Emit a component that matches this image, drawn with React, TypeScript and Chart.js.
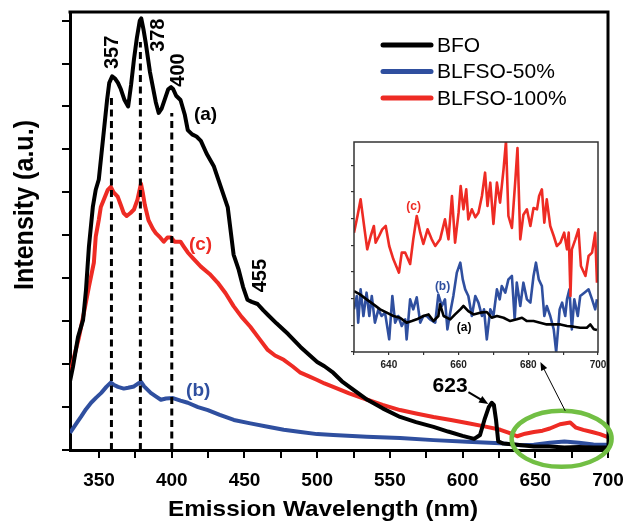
import React, { useEffect, useRef } from "react";
import { Chart, registerables } from "chart.js";
Chart.register(...registerables);

// ---------------- DATA ----------------
const seriesNames = ["BFO", "BLFSO-50%", "BLFSO-100%"];

const bfoWavelength = [330, 332, 335.5, 339, 341, 343, 345.7, 347.7, 349.8, 351.5, 353.5, 355.5, 357, 359, 361, 363, 365, 367.5, 370, 372, 374, 376, 378, 379, 380.5, 382, 385, 387, 389, 391, 393, 395, 397.5, 399.5, 401, 403, 406, 409, 411, 414, 417, 420, 424, 429, 434, 438.5, 442.5, 446, 449, 452, 455, 459, 463, 466, 472, 480, 488.5, 495, 500, 505, 511, 517, 525, 534.5, 545, 557, 568, 580, 590, 600, 608, 612, 615, 618, 620, 621.5, 623, 624.5, 628, 637.5, 649, 660, 670, 680, 690, 700];
const bfoIntensity = [1.6, 1.93, 2.63, 3.03, 3.73, 4.73, 5.66, 6.06, 6.3, 6.85, 7.5, 8.15, 8.55, 8.7, 8.65, 8.55, 8.4, 8.15, 8.0, 8.5, 9.1, 9.6, 10.0, 10.05, 9.8, 9.5, 8.8, 8.45, 8.1, 7.85, 7.95, 8.15, 8.4, 8.45, 8.4, 8.25, 8.15, 7.8, 7.45, 7.35, 7.3, 7.2, 6.9, 6.6, 6.1, 5.65, 4.55, 4.2, 3.8, 3.5, 3.45, 3.4, 3.25, 3.15, 2.95, 2.7, 2.4, 2.2, 2.05, 1.95, 1.8, 1.6, 1.4, 1.17, 0.97, 0.77, 0.65, 0.54, 0.43, 0.33, 0.26, 0.35, 0.7, 1.0, 1.1, 1.05, 0.7, 0.2, 0.15, 0.12, 0.08, 0.08, 0.06, 0.07, 0.06, 0.06];

const blfso100Wavelength = [330, 332.8, 336, 339.6, 343, 346.4, 347.7, 349.8, 351.2, 353.5, 356, 358, 360, 362.8, 365, 366.9, 369, 371.6, 374, 376.4, 378.8, 380, 381.5, 384, 387, 389, 392, 394.5, 397, 399.5, 402, 406, 408, 411, 415, 420, 426, 431.5, 437, 442.5, 448, 454, 460, 466, 471, 477, 483, 488.5, 494, 500, 505, 511, 522, 534.5, 545, 557, 568, 580, 592, 603, 615, 626, 632, 637.5, 643, 649, 655, 660, 667, 674, 678, 683, 689, 694.5, 700];
const blfso100Intensity = [1.75, 2.17, 2.6, 3.2, 3.8, 4.36, 4.97, 5.36, 5.66, 5.85, 6.06, 6.13, 6.0, 5.9, 5.7, 5.52, 5.45, 5.52, 5.6, 5.83, 6.2, 6.0, 5.7, 5.35, 5.15, 5.05, 4.95, 4.85, 4.95, 4.95, 4.85, 4.85, 4.75, 4.6, 4.45, 4.27, 4.1, 3.9, 3.65, 3.35, 3.1, 2.87, 2.6, 2.33, 2.2, 2.1, 1.95, 1.8, 1.72, 1.63, 1.55, 1.47, 1.32, 1.17, 1.05, 0.93, 0.85, 0.77, 0.7, 0.63, 0.55, 0.47, 0.4, 0.32, 0.38, 0.42, 0.45, 0.5, 0.6, 0.64, 0.52, 0.47, 0.42, 0.37, 0.3];

const blfso50Wavelength = [330, 332, 335, 337.5, 341, 344.5, 348, 351.5, 355, 358, 360, 363, 367, 370, 374, 377, 379, 381, 385.5, 389, 392.5, 396, 400.8, 406, 411, 418, 424.8, 433, 442.7, 454, 466, 477, 488.6, 500, 511, 534, 557, 580, 603, 626, 640, 649, 660, 670, 680, 690, 700];
const blfso50Intensity = [0.4, 0.5, 0.65, 0.77, 0.95, 1.1, 1.22, 1.33, 1.47, 1.57, 1.52, 1.47, 1.43, 1.45, 1.48, 1.55, 1.58, 1.48, 1.33, 1.25, 1.17, 1.2, 1.21, 1.15, 1.1, 1.0, 0.93, 0.82, 0.7, 0.62, 0.54, 0.47, 0.42, 0.37, 0.35, 0.31, 0.28, 0.23, 0.19, 0.16, 0.11, 0.12, 0.17, 0.2, 0.17, 0.13, 0.12];

// dashed peak markers
const peakWavelengths = [358.5, 378.4, 400];
const peakTops = [8.2, 9.5, 7.85];
const peakLabels = ["357", "378", "400"];

// axis ticks
const xTickValues = [350, 375, 400, 425, 450, 475, 500, 525, 550, 575, 600, 625, 650, 675, 700];
const xTickLabels = [350, 400, 450, 500, 550, 600, 650, 700];
const yTickValues = [0, 1, 2, 3, 4, 5, 6, 7, 8, 9, 10];
const xMin = 330;
const xMax = 700;
const yMax = 10.2;

// inset (630-700 nm zoom)
const insetRedWavelength = [630.0, 631.0, 631.9, 632.9, 633.8, 634.8, 635.7, 636.2, 637.2, 638.1, 639.1, 640.1, 641.3, 642.9, 643.7, 644.7, 646.1, 647.0, 648.0, 649.0, 649.9, 651.1, 652.3, 653.3, 654.7, 656.1, 657.1, 658.1, 659.0, 660.0, 660.6, 661.4, 662.2, 662.8, 663.8, 664.8, 665.7, 666.7, 667.6, 668.3, 669.1, 670.0, 671.0, 671.9, 672.9, 673.6, 674.3, 675.3, 676.3, 676.9, 677.7, 678.6, 679.6, 680.6, 681.5, 682.5, 683.1, 683.9, 684.6, 685.3, 686.3, 687.3, 688.2, 689.2, 690.3, 691.1, 691.6, 692.1, 692.5, 693.5, 694.4, 695.1, 696.4, 697.3, 698.3, 699.2, 699.7];
const insetRedIntensity = [8.95, 10.2, 11.45, 9.45, 7.7, 8.7, 9.45, 8.2, 8.7, 9.2, 9.45, 7.95, 6.95, 5.95, 7.45, 7.45, 6.6, 8.45, 10.2, 8.95, 8.1, 9.2, 8.45, 7.95, 8.45, 9.95, 8.45, 11.7, 8.2, 10.45, 12.45, 10.7, 12.2, 9.95, 10.7, 10.1, 10.45, 11.7, 13.45, 10.95, 12.7, 9.6, 12.7, 11.2, 13.7, 15.8, 10.2, 9.3, 12.95, 15.3, 8.45, 10.3, 10.7, 9.45, 10.8, 10.7, 11.7, 12.2, 9.7, 11.45, 9.45, 8.7, 7.95, 8.2, 8.95, 7.7, 8.95, 4.2, 7.7, 8.45, 9.2, 6.45, 5.7, 7.2, 7.45, 8.95, 5.2];

const insetBlueWavelength = [630.0, 630.8, 631.2, 631.9, 632.7, 633.6, 634.4, 635.1, 636.0, 637.0, 637.9, 638.9, 640.1, 641.0, 641.8, 642.7, 643.7, 644.7, 645.1, 646.1, 647.0, 648.0, 649.0, 649.9, 650.9, 651.8, 653.3, 654.2, 655.2, 656.1, 656.8, 657.6, 658.5, 659.5, 660.5, 661.2, 661.9, 662.8, 663.8, 664.8, 665.7, 666.7, 667.3, 668.1, 669.1, 670.0, 671.0, 671.8, 672.4, 673.4, 674.3, 675.3, 676.1, 676.7, 677.7, 678.6, 679.6, 680.6, 681.5, 682.2, 683.0, 683.9, 684.6, 685.3, 686.3, 687.3, 688.0, 689.0, 689.7, 690.6, 691.1, 691.8, 692.5, 693.2, 694.2, 694.9, 696.1, 697.3, 698.3, 699.2, 699.7];
const insetBlueIntensity = [3.2, 4.2, 2.2, 4.7, 2.7, 4.45, 2.7, 4.2, 2.2, 3.2, 2.7, 2.95, 0.95, 4.2, 2.2, 2.7, 1.95, 2.45, 0.95, 3.95, 3.2, 4.1, 2.2, 2.7, 2.7, 2.45, 2.2, 4.3, 3.45, 3.95, 1.7, 2.95, 4.2, 5.95, 6.7, 5.45, 4.7, 4.2, 2.7, 4.2, 3.7, 2.7, 3.2, 0.95, 3.2, 2.7, 4.7, 3.95, 4.95, 4.45, 5.45, 5.7, 2.45, 5.2, 3.45, 5.2, 3.95, 3.7, 5.7, 6.7, 5.45, 4.95, 2.7, 3.45, 2.7, 1.7, 0, 3.2, 3.7, 2.7, 3.95, 4.7, 1.7, 3.95, 2.7, 4.2, 4.45, 4.7, 3.95, 3.2, 3.95];

const insetBlackWavelength = [630.0, 631.7, 633.6, 635.6, 637.5, 639.4, 641.3, 643.2, 645.1, 646.6, 648.0, 649.9, 651.4, 652.8, 654.2, 654.7, 655.7, 657.6, 659.0, 660.5, 661.4, 662.8, 664.3, 666.2, 668.1, 669.5, 671.0, 672.9, 674.8, 676.7, 678.2, 679.6, 681.5, 683.4, 685.3, 687.3, 689.2, 691.1, 693.0, 694.9, 696.8, 697.8, 698.8, 699.7];
const insetBlackIntensity = [4.57, 4.32, 3.95, 3.57, 3.2, 2.95, 2.7, 2.57, 2.2, 2.32, 2.45, 2.7, 2.82, 2.32, 2.7, 3.57, 2.7, 2.45, 2.82, 3.2, 3.45, 3.07, 2.82, 2.95, 3.0, 2.57, 2.7, 2.57, 2.32, 2.45, 2.57, 2.32, 2.32, 2.2, 2.07, 2.07, 2.07, 1.95, 1.9, 1.82, 1.82, 2.07, 1.7, 1.65];

const insetXTicks = [630, 640, 650, 660, 670, 680, 690, 700];
const insetXLabels = [640, 660, 680, 700];
const insetYTicks = [0, 1, 2, 3, 4, 5, 6, 7, 8, 9, 10, 11, 12, 13, 14, 15];
const insetXMin = 630;
const insetXMax = 700;
const insetYMax = 15.75;

// ---------------- STYLE ----------------
const BLACK = "#000000";
const BLUE = "#2f4f9f";
const RED = "#ee2b24";
const GREEN = "#72bf44";
const FONT = "'Liberation Sans', Arial, sans-serif";

const toPts = (xs: number[], ys: number[]) => xs.map((x, i) => ({ x, y: ys[i] }));

function drawArrow(ctx: CanvasRenderingContext2D, x1: number, y1: number, x2: number, y2: number, head: number, width: number) {
  ctx.save();
  ctx.strokeStyle = BLACK;
  ctx.fillStyle = BLACK;
  ctx.lineWidth = width;
  const a = Math.atan2(y2 - y1, x2 - x1);
  ctx.beginPath();
  ctx.moveTo(x1, y1);
  ctx.lineTo(x2 - Math.cos(a) * head * 0.6, y2 - Math.sin(a) * head * 0.6);
  ctx.stroke();
  ctx.beginPath();
  ctx.moveTo(x2, y2);
  ctx.lineTo(x2 - head * Math.cos(a - 0.38), y2 - head * Math.sin(a - 0.38));
  ctx.lineTo(x2 - head * Math.cos(a + 0.38), y2 - head * Math.sin(a + 0.38));
  ctx.closePath();
  ctx.fill();
  ctx.restore();
}

// draw text fitted to a given length along its direction
function fittedText(ctx: CanvasRenderingContext2D, text: string, cx: number, cy: number, length: number, rotate: boolean) {
  const w = ctx.measureText(text).width;
  ctx.save();
  ctx.translate(cx, cy);
  if (rotate) ctx.rotate(-Math.PI / 2);
  ctx.scale(length / w, 1);
  ctx.textAlign = "center";
  ctx.textBaseline = "alphabetic";
  ctx.fillText(text, 0, 0);
  ctx.restore();
}

const mainAnnotations = [
  { text: peakLabels[0], x: 358.5, y: 9.26, color: BLACK, size: 20, rot: true },
  { text: peakLabels[1], x: 390.4, y: 9.66, color: BLACK, size: 20, rot: true },
  { text: peakLabels[2], x: 404, y: 8.85, color: BLACK, size: 20, rot: true },
  { text: "455", x: 460.2, y: 4.06, color: BLACK, size: 20, rot: true },
  { text: "(a)", x: 423.2, y: 7.84, color: BLACK, size: 19, rot: false },
  { text: "(c)", x: 419.8, y: 4.81, color: RED, size: 19, rot: false },
  { text: "(b)", x: 418.2, y: 1.4, color: BLUE, size: 19, rot: false },
  { text: "623", x: 591.4, y: 1.5, color: BLACK, size: 21, rot: false },
];

const mainDecor = {
  id: "mainDecor",
  afterDraw(chart: any) {
    const ctx: CanvasRenderingContext2D = chart.ctx;
    const { left, right, top, bottom } = chart.chartArea;
    const xs = chart.scales.x;
    const ys = chart.scales.y;
    ctx.save();
    // frame top & right
    ctx.strokeStyle = BLACK;
    ctx.lineWidth = 3;
    ctx.beginPath();
    ctx.moveTo(left - 1.5, top);
    ctx.lineTo(right, top);
    ctx.lineTo(right, bottom + 1.5);
    ctx.stroke();

    // legend
    const legendColors = [BLACK, BLUE, RED];
    const legendY = [45, 71.5, 98];
    legendColors.forEach((c, i) => {
      ctx.strokeStyle = c;
      ctx.lineWidth = 5;
      ctx.lineCap = "round";
      ctx.beginPath();
      ctx.moveTo(383, legendY[i]);
      ctx.lineTo(431, legendY[i]);
      ctx.stroke();
      ctx.fillStyle = BLACK;
      ctx.font = `21px ${FONT}`;
      ctx.textAlign = "left";
      ctx.textBaseline = "middle";
      ctx.fillText(seriesNames[i], 437, legendY[i] + 1);
    });
    ctx.lineCap = "butt";

    // annotations
    mainAnnotations.forEach((a) => {
      const px = xs.getPixelForValue(a.x);
      const py = ys.getPixelForValue(a.y);
      ctx.save();
      ctx.translate(px, py);
      if (a.rot) ctx.rotate(-Math.PI / 2);
      ctx.fillStyle = a.color;
      ctx.font = `bold ${a.size}px ${FONT}`;
      ctx.textAlign = "center";
      ctx.textBaseline = "middle";
      ctx.fillText(a.text, 0, 1);
      ctx.restore();
    });

    // arrow to 623 peak
    drawArrow(ctx, xs.getPixelForValue(604), ys.getPixelForValue(1.35), xs.getPixelForValue(617.7), ys.getPixelForValue(1.07), 10, 2);

    // green ellipse
    ctx.strokeStyle = GREEN;
    ctx.lineWidth = 4.5;
    ctx.beginPath();
    ctx.ellipse(xs.getPixelForValue(668.1), ys.getPixelForValue(0.26), 50, 28, 0, 0, Math.PI * 2);
    ctx.stroke();

    // thin arrow to inset
    drawArrow(ctx, xs.getPixelForValue(670.6), ys.getPixelForValue(0.91), xs.getPixelForValue(653.5), ys.getPixelForValue(2.05), 9, 1);

    // axis titles
    ctx.fillStyle = BLACK;
    ctx.font = `bold 22px ${FONT}`;
    fittedText(ctx, "Emission Wavelength (nm)", 323, 516, 310, false);
    ctx.font = `bold 27px ${FONT}`;
    fittedText(ctx, "Intensity (a.u.)", 33, 205, 170, true);
    ctx.restore();
  },
};

const insetAnnotations = [
  { text: "(c)", x: 647.1, y: 10.93, color: RED },
  { text: "(b)", x: 655.4, y: 4.93, color: BLUE },
  { text: "(a)", x: 661.6, y: 1.85, color: BLACK },
];

const insetDecor = {
  id: "insetDecor",
  beforeDraw(chart: any) {
    const ctx: CanvasRenderingContext2D = chart.ctx;
    const { left, right, top, bottom } = chart.chartArea;
    ctx.save();
    ctx.fillStyle = "#ffffff";
    ctx.fillRect(left, top, right - left, bottom - top);
    ctx.restore();
  },
  afterDraw(chart: any) {
    const ctx: CanvasRenderingContext2D = chart.ctx;
    const { left, right, top, bottom } = chart.chartArea;
    const xs = chart.scales.x;
    const ys = chart.scales.y;
    ctx.save();
    ctx.strokeStyle = "#333333";
    ctx.lineWidth = 1.5;
    ctx.strokeRect(left, top, right - left, bottom - top);
    insetAnnotations.forEach((a) => {
      ctx.fillStyle = a.color;
      ctx.font = `bold 12px ${FONT}`;
      ctx.textAlign = "center";
      ctx.textBaseline = "middle";
      ctx.fillText(a.text, xs.getPixelForValue(a.x), ys.getPixelForValue(a.y));
    });
    ctx.restore();
  },
};

const noScalePadding = (s: any) => {
  s.paddingLeft = 0;
  s.paddingRight = 0;
  s.paddingTop = 0;
  s.paddingBottom = 0;
};

export default function App() {
  const mainRef = useRef<HTMLCanvasElement>(null);
  const insetRef = useRef<HTMLCanvasElement>(null);

  useEffect(() => {
    if (!mainRef.current || !insetRef.current) return;
    const dashed = peakWavelengths.map((w, i) => ({
      label: "peak" + peakLabels[i],
      data: [{ x: w, y: 0 }, { x: w, y: peakTops[i] }],
      borderColor: BLACK,
      borderWidth: 3,
      borderDash: [7, 4.5],
    }));
    const main = new Chart(mainRef.current, {
      type: "line",
      data: {
        datasets: [
          ...dashed,
          { label: seriesNames[0], data: toPts(bfoWavelength, bfoIntensity), borderColor: BLACK, borderWidth: 4 },
          { label: seriesNames[2], data: toPts(blfso100Wavelength, blfso100Intensity), borderColor: RED, borderWidth: 4 },
          { label: seriesNames[1], data: toPts(blfso50Wavelength, blfso50Intensity), borderColor: BLUE, borderWidth: 4 },
        ] as any,
      },
      options: {
        responsive: false,
        animation: false,
        devicePixelRatio: 1,
        layout: { padding: { top: 12, right: 20, left: 0, bottom: 0 } },
        elements: { point: { radius: 0 }, line: { tension: 0, borderJoinStyle: "round", borderCapStyle: "butt" } },
        plugins: { legend: { display: false }, tooltip: { enabled: false } },
        scales: {
          x: {
            type: "linear",
            min: xMin,
            max: xMax,
            afterBuildTicks: (s: any) => { s.ticks = xTickValues.map((v) => ({ value: v })); },
            afterFit: (s: any) => { s.height = 71; noScalePadding(s); },
            ticks: {
              autoSkip: false,
              maxRotation: 0,
              padding: 11,
              color: BLACK,
              font: { family: FONT, size: 19, weight: "bold" },
              callback: (v: any) => (xTickLabels.includes(Number(v)) ? String(v) : ""),
            },
            grid: { drawOnChartArea: false, drawTicks: true, tickLength: 8, color: BLACK, lineWidth: 2 },
            border: { display: true, color: BLACK, width: 3 },
          },
          y: {
            type: "linear",
            min: 0,
            max: yMax,
            afterBuildTicks: (s: any) => { s.ticks = yTickValues.map((v) => ({ value: v })); },
            afterFit: (s: any) => { s.width = 70; noScalePadding(s); },
            ticks: { callback: () => "", padding: 0 },
            grid: { drawOnChartArea: false, drawTicks: true, tickLength: 8, color: BLACK, lineWidth: 2 },
            border: { display: true, color: BLACK, width: 3 },
          },
        },
      } as any,
      plugins: [mainDecor],
    });

    const inset = new Chart(insetRef.current, {
      type: "line",
      data: {
        datasets: [
          { label: "a", data: toPts(insetBlackWavelength, insetBlackIntensity), borderColor: BLACK, borderWidth: 2.6 },
          { label: "c", data: toPts(insetRedWavelength, insetRedIntensity), borderColor: RED, borderWidth: 2.6 },
          { label: "b", data: toPts(insetBlueWavelength, insetBlueIntensity), borderColor: BLUE, borderWidth: 2.6 },
        ] as any,
      },
      options: {
        responsive: false,
        animation: false,
        devicePixelRatio: 1,
        layout: { padding: { top: 12, right: 10, left: 0, bottom: 0 } },
        elements: { point: { radius: 0 }, line: { tension: 0, borderJoinStyle: "round" } },
        plugins: { legend: { display: false }, tooltip: { enabled: false } },
        scales: {
          x: {
            type: "linear",
            min: insetXMin,
            max: insetXMax,
            afterBuildTicks: (s: any) => { s.ticks = insetXTicks.map((v) => ({ value: v })); },
            afterFit: (s: any) => { s.height = 28; noScalePadding(s); },
            ticks: {
              autoSkip: false,
              maxRotation: 0,
              padding: 4,
              color: "#222",
              font: { family: FONT, size: 10, weight: "bold" },
              callback: (v: any) => (insetXLabels.includes(Number(v)) ? String(v) : ""),
            },
            grid: { drawOnChartArea: false, drawTicks: true, tickLength: 3, color: "#333", lineWidth: 1.2 },
            border: { display: false },
          },
          y: {
            type: "linear",
            min: 0,
            max: insetYMax,
            afterBuildTicks: (s: any) => { s.ticks = insetYTicks.map((v) => ({ value: v })); },
            afterFit: (s: any) => { s.width = 24; noScalePadding(s); },
            ticks: { callback: () => "", padding: 0 },
            grid: { drawOnChartArea: false, drawTicks: true, tickLength: 3, color: "#333", lineWidth: 1.2 },
            border: { display: false },
          },
        },
      } as any,
      plugins: [insetDecor],
    });

    return () => {
      main.destroy();
      inset.destroy();
    };
  }, []);

  return (
    <div style={{ position: "absolute", left: 0, top: 0, width: 628, height: 521, background: "#fff", overflow: "hidden" }}>
      <canvas ref={mainRef} width={628} height={521} style={{ position: "absolute", left: 0, top: 0 }} />
      <canvas ref={insetRef} width={278} height={250} style={{ position: "absolute", left: 330, top: 130 }} />
    </div>
  );
}
